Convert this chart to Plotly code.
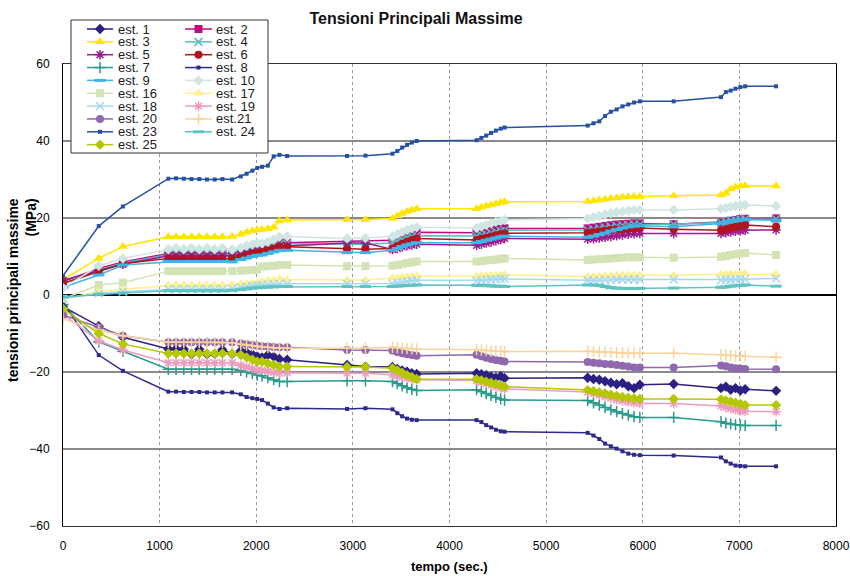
import plotly.graph_objects as go

# ---------------- data ----------------
T = [0, 370, 620,
     1090, 1170, 1250, 1330, 1410, 1490, 1570, 1650,
     1750,
     1840, 1900, 1960, 2010,
     2060, 2120, 2180, 2240,
     2320,
     2940, 3130,
     3410, 3460, 3510, 3560, 3610, 3660,
     4280, 4330, 4380, 4430, 4480, 4530, 4570,
     5430, 5490, 5550, 5610, 5670, 5730, 5790, 5850, 5910, 5970,
     6320,
     6810, 6860, 6910, 6960, 7010, 7060,
     7380]

est1 = [-3.0, -8.1, -11.0,
        -14.0, -14.0, -14.1, -15.4, -14.1, -15.4, -15.3, -14.2,
        -15.3,
        -14.5, -14.9, -15.4, -15.9,
        -16.2, -15.6, -16.0, -16.6,
        -16.8,
        -18.2, -18.6,
        -18.7, -19.2, -19.6, -19.9, -20.3, -20.5,
        -20.3, -20.6, -20.8, -21.2, -21.5, -21.1, -21.6,
        -21.5, -21.8, -22.0, -22.4, -22.8, -23.2, -22.9, -23.7, -24.2, -23.3,
        -23.1,
        -24.2, -23.8, -24.6, -24.2, -24.8, -24.5,
        -24.9]
est2 = [3.5, 6.9, 8.6,
        10.8, 10.8, 10.9, 10.8, 10.8, 10.9, 10.8, 10.8,
        10.8,
        11.2, 11.6, 11.9, 12.2,
        12.2, 12.6, 13.0, 13.5,
        13.6,
        13.9, 13.9,
        14.2, 14.7, 15.2, 15.7, 16.0, 16.3,
        16.2, 16.4, 16.6, 16.8, 17.0, 17.2, 17.3,
        17.3, 17.5, 17.7, 17.9, 18.1, 18.3, 18.4, 18.5, 18.6, 18.6,
        18.4,
        18.8, 19.0, 19.3, 19.5, 19.7, 19.8,
        19.9]
est3 = [4.0, 9.5, 12.6,
        15.1, 15.1, 15.1, 15.1, 15.1, 15.1, 15.1, 15.1,
        15.2,
        15.8, 16.3, 16.7, 16.9,
        17.0, 17.2, 17.6, 19.2,
        19.5,
        19.6, 19.6,
        19.9, 20.6, 21.2, 21.7, 22.1, 22.4,
        22.4, 22.8, 23.1, 23.4, 23.7, 24.0, 24.2,
        24.3, 24.5, 24.7, 24.9, 25.1, 25.2, 25.4, 25.5, 25.6, 25.6,
        25.8,
        26.0, 26.4, 27.5, 28.0, 28.3, 28.4,
        28.3]
est4 = [3.0, 6.5, 8.3,
        10.5, 10.5, 10.5, 10.5, 10.5, 10.5, 10.5, 10.5,
        10.5,
        10.9, 11.3, 11.7, 12.0,
        12.0, 12.4, 12.8, 13.2,
        13.3,
        13.2, 13.2,
        13.5, 14.0, 14.5, 14.9, 15.2, 15.4,
        15.3, 15.5, 15.8, 16.1, 16.4, 16.6, 16.8,
        16.9, 17.1, 17.3, 17.5, 17.7, 17.9, 18.1, 18.2, 18.3, 18.3,
        18.4,
        18.8, 19.1, 19.3, 19.5, 19.6, 19.7,
        19.7]
est5 = [3.8, 6.4, 8.0,
        10.2, 10.3, 10.2, 10.3, 10.2, 10.3, 10.2, 10.3,
        10.0,
        10.5, 10.9, 11.2, 11.5,
        11.6, 11.9, 12.3, 12.6,
        12.7,
        13.5, 13.5,
        11.8, 12.1, 12.5, 12.8, 13.0, 13.2,
        12.9, 13.2, 13.5, 13.8, 14.1, 14.4, 14.7,
        14.5, 14.6, 14.8, 15.0, 15.2, 15.4, 15.6, 15.8, 15.9, 16.0,
        16.0,
        16.0, 16.2, 16.4, 16.6, 16.7, 16.8,
        16.9]
est6 = [3.0, 6.0, 8.2,
        9.5, 9.5, 9.5, 9.5, 9.5, 9.5, 9.5, 9.5,
        9.4,
        9.9, 10.3, 10.7, 11.0,
        11.2, 11.6, 12.1, 12.6,
        12.5,
        11.9, 11.9,
        12.1, 12.7, 13.3, 13.8, 14.3, 14.7,
        14.3, 14.6, 14.9, 15.2, 15.5, 15.8, 16.0,
        16.2, 16.3, 16.5, 16.7, 16.9, 17.0, 17.1, 17.2, 17.3, 17.4,
        17.1,
        16.8, 17.1, 17.4, 17.7, 17.9, 18.2,
        17.7]
est7 = [-2.5, -12.2, -14.6,
        -19.3, -19.3, -19.3, -19.3, -19.3, -19.3, -19.3, -19.3,
        -19.3,
        -19.6, -20.0, -20.4, -20.8,
        -21.0, -21.5, -22.0, -22.5,
        -22.5,
        -22.3, -22.3,
        -22.5, -23.0, -23.6, -24.1, -24.5, -24.8,
        -24.6, -25.1, -25.6, -26.1, -26.6, -27.0, -27.3,
        -27.4, -28.0, -28.6, -29.2, -29.8, -30.3, -30.8, -31.2, -31.6, -31.8,
        -31.8,
        -32.9, -33.3, -33.5, -33.7, -33.8, -33.9,
        -33.9]
est8 = [-2.0, -15.6, -19.7,
        -25.1, -25.1, -25.2, -25.2, -25.2, -25.3, -25.3, -25.3,
        -25.3,
        -25.8, -26.5, -26.8, -27.0,
        -27.3, -28.2, -29.2, -29.6,
        -29.4,
        -29.6, -29.4,
        -29.7, -30.7, -31.5, -32.1, -32.4, -32.5,
        -32.5, -33.0, -33.8, -34.4, -35.0, -35.4, -35.5,
        -35.8, -36.5, -37.4, -38.6, -39.3, -39.9, -40.6, -41.2, -41.5, -41.6,
        -41.7,
        -42.2, -43.2, -43.8, -44.3, -44.4, -44.5,
        -44.5]
est9 = [2.0, 5.2, 7.8,
        8.7, 8.7, 8.7, 8.7, 8.7, 8.7, 8.7, 8.7,
        8.6,
        9.2, 9.6, 10.0, 10.3,
        10.4, 10.8, 11.2, 11.6,
        11.6,
        11.0, 11.0,
        11.6, 12.1, 12.6, 13.0, 13.3, 13.6,
        13.6, 13.9, 14.2, 14.5, 14.8, 15.1, 15.3,
        15.0, 15.3, 15.7, 16.1, 16.6, 17.0, 17.4, 17.7, 17.9, 18.0,
        17.7,
        18.6, 18.9, 19.1, 19.3, 19.5, 19.6,
        19.4]
est10 = [1.8, 7.6, 9.5,
         11.9, 12.2, 11.9, 12.2, 11.9, 12.2, 11.9, 12.2,
         11.8,
         12.3, 12.8, 13.2, 13.5,
         13.4, 13.8, 14.4, 15.1,
         15.2,
         14.7, 14.8,
         15.2, 15.8, 16.4, 16.9, 17.3, 17.6,
         17.4, 17.8, 18.2, 18.6, 19.0, 19.3, 19.5,
         19.9, 20.2, 20.5, 20.9, 21.2, 21.5, 21.7, 21.9, 22.1, 22.1,
         22.1,
         22.4, 22.6, 22.9, 23.1, 23.3, 23.4,
         23.1]
est16 = [-1.0, 2.6, 3.2,
         6.2, 6.2, 6.2, 6.2, 6.2, 6.2, 6.2, 6.2,
         6.2,
         6.3, 6.4, 6.5, 6.6,
         7.4, 7.5, 7.6, 7.8,
         7.8,
         7.5, 7.5,
         7.6, 7.8, 8.0, 8.3, 8.5, 8.7,
         8.7, 8.8, 9.0, 9.1, 9.2, 9.4, 9.5,
         9.1, 9.2, 9.3, 9.4, 9.5, 9.6, 9.7, 9.8, 9.8, 9.8,
         9.7,
         9.9, 10.1, 10.4, 10.6, 10.8, 10.9,
         10.4]
est17 = [-1.2, 1.0, 1.5,
         2.6, 2.6, 2.6, 2.6, 2.6, 2.6, 2.6, 2.6,
         2.7,
         2.9, 3.0, 3.1, 3.2,
         3.6, 3.8, 3.9, 4.2,
         4.0,
         3.9, 3.9,
         4.4, 4.5, 4.6, 4.7, 4.8, 5.0,
         4.9, 5.0, 5.0, 5.1, 5.1, 5.2, 5.3,
         4.8, 4.9, 4.9, 5.0, 5.0, 5.1, 5.1, 5.2, 5.2, 5.2,
         5.1,
         5.4, 5.4, 5.5, 5.5, 5.5, 5.5,
         5.4]
est18 = [-1.0, 0.4, 0.9,
         1.5, 1.5, 1.5, 1.5, 1.5, 1.5, 1.5, 1.5,
         1.6,
         2.0, 2.2, 2.4, 2.5,
         2.6, 2.7, 2.8, 2.9,
         2.9,
         2.9, 2.9,
         3.0, 3.2, 3.4, 3.5, 3.7, 3.8,
         3.7, 3.8, 3.9, 4.0, 4.1, 4.2, 4.2,
         3.8, 3.8, 3.9, 3.9, 3.9, 4.0, 4.0, 4.0, 4.0, 4.0,
         4.0,
         3.9, 4.0, 4.0, 4.1, 4.1, 4.1,
         4.3]
est19 = [-5.0, -11.9, -14.3,
         -17.6, -17.6, -17.6, -17.6, -17.6, -17.6, -17.6, -17.6,
         -17.6,
         -18.3, -18.7, -19.1, -19.5,
         -19.5, -19.8, -20.1, -20.3,
         -20.2,
         -20.3, -20.3,
         -20.7, -21.0, -21.3, -21.6, -21.8, -22.0,
         -22.2, -22.6, -23.0, -23.4, -23.8, -24.1, -24.4,
         -25.2, -25.6, -26.0, -26.4, -26.8, -27.2, -27.5, -27.8, -28.0, -28.2,
         -28.2,
         -28.8, -29.2, -29.5, -29.8, -30.0, -30.2,
         -30.3]
est20 = [-5.2, -8.4, -10.6,
         -12.3, -12.3, -12.3, -12.3, -12.3, -12.3, -12.3, -12.3,
         -12.3,
         -12.6, -12.8, -13.0, -13.2,
         -13.3, -13.4, -13.5, -13.6,
         -13.6,
         -14.3, -14.3,
         -14.4, -14.8, -15.1, -15.4, -15.6, -15.8,
         -15.5, -15.9, -16.3, -16.6, -16.9, -17.1, -17.3,
         -17.4, -17.6, -17.7, -17.9, -18.0, -18.2, -18.4, -18.6, -18.8, -18.8,
         -18.8,
         -18.3, -18.5, -18.8, -19.0, -19.1, -19.2,
         -19.3]
est21 = [-6.2, -9.1, -10.6,
         -12.3, -12.3, -12.3, -12.3, -12.3, -12.3, -12.3, -12.3,
         -12.4,
         -12.8, -13.0, -13.2, -13.4,
         -13.5, -13.6, -13.7, -13.8,
         -13.8,
         -13.8, -13.8,
         -13.6, -13.7, -13.8, -13.9, -14.0, -14.0,
         -14.2, -14.3, -14.4, -14.5, -14.6, -14.6, -14.7,
         -14.6, -14.7, -14.8, -14.8, -14.9, -15.0, -15.0, -15.1, -15.1, -15.1,
         -15.1,
         -15.5, -15.6, -15.7, -15.8, -15.8, -15.9,
         -16.2]
est23 = [5.0, 17.9, 23.0,
         30.2, 30.3, 30.2, 30.1, 30.1, 30.0, 30.0, 30.1,
         30.0,
         30.8, 31.5, 32.3, 33.0,
         33.3, 33.6, 36.0, 36.4,
         36.1,
         36.1, 36.2,
         36.7, 37.4, 38.3, 39.0, 39.6, 40.0,
         40.2, 40.8, 41.4, 42.1, 42.7, 43.2, 43.5,
         44.0, 44.6, 45.1, 46.5, 47.6, 48.2, 49.0, 49.5, 50.0, 50.3,
         50.3,
         51.4, 52.7, 53.1, 53.6, 54.0, 54.2,
         54.2]
est24 = [-0.5, 0.2, 0.5,
         1.1, 1.1, 1.1, 1.1, 1.1, 1.1, 1.1, 1.1,
         1.2,
         1.4, 1.6, 1.8, 1.9,
         2.0, 2.1, 2.1, 2.2,
         2.2,
         2.2, 2.2,
         2.2, 2.3, 2.4, 2.5, 2.5, 2.6,
         2.5, 2.5, 2.4, 2.4, 2.3, 2.3, 2.2,
         2.6, 2.6, 2.5, 2.2, 1.9, 1.8, 1.7, 1.7, 1.7, 1.7,
         1.8,
         2.0, 2.1, 2.3, 2.4, 2.5, 2.6,
         2.3]
est25 = [-3.6, -10.0, -12.7,
         -15.2, -15.2, -15.2, -15.2, -15.2, -15.2, -15.2, -15.2,
         -15.2,
         -15.6, -16.2, -16.8, -17.3,
         -17.3, -17.8, -18.2, -18.6,
         -18.6,
         -18.7, -18.7,
         -19.0, -19.6, -20.2, -20.8, -21.3, -21.8,
         -21.9, -22.2, -22.5, -22.8, -23.1, -23.5, -23.8,
         -24.7, -25.0, -25.3, -25.6, -25.9, -26.2, -26.5, -26.7, -26.9, -27.0,
         -27.0,
         -27.1, -27.4, -27.7, -28.0, -28.3, -28.6,
         -28.6]

names = ["est. 1", "est. 2", "est. 3", "est. 4", "est. 5", "est. 6", "est. 7",
         "est. 8", "est. 9", "est. 10", "est. 16", "est. 17", "est. 18",
         "est. 19", "est. 20", "est.21", "est. 23", "est. 24", "est. 25"]
values = [est1, est2, est3, est4, est5, est6, est7, est8, est9, est10,
          est16, est17, est18, est19, est20, est21, est23, est24, est25]

x_ticks = [0, 1000, 2000, 3000, 4000, 5000, 6000, 7000, 8000]
y_ticks = [-60, -40, -20, 0, 20, 40, 60]

# ---------------- styles ----------------
colors = ["#2B2183", "#C0087F", "#FFE600", "#4EC3C0", "#9B1B8E", "#B0141E",
          "#2A9A8C", "#2E2A8C", "#3DB5E6", "#CFE6E3", "#D4E3B5", "#FFF08C",
          "#A6D8F2", "#EE9BC0", "#9068AD", "#FAD49C", "#2650A2", "#5EC3C3",
          "#B5C700"]
symbols = ["diamond", "square", "triangle-up", "x-thin-open", "asterisk-open",
           "circle", "cross-thin-open", "square", "line-ew-open", "diamond",
           "square", "triangle-up", "x-thin-open", "asterisk-open", "circle",
           "cross-thin-open", "square", "line-ew-open", "diamond"]
sizes = [8, 8, 9, 8, 8, 8, 8, 4, 8, 8, 8, 9, 8, 8, 8, 8, 4, 8, 8]
mlw = [0, 0, 0, 1.5, 1.5, 0, 1.5, 0, 3, 0, 0, 0, 1.5, 1.5, 0, 1.5, 0, 3, 0]

W, H = 850, 576
PX0, PX1, PY0, PY1 = 63, 836, 64, 526

fig = go.Figure()
for n, v, c, s, sz, lw in zip(names, values, colors, symbols, sizes, mlw):
    fig.add_trace(go.Scatter(
        x=T, y=v, name=n, mode="lines+markers",
        line=dict(color=c, width=1.5),
        marker=dict(symbol=s, size=sz, color=c, line=dict(color=c, width=lw)),
        showlegend=False, xaxis="x", yaxis="y"))

# ---------------- manual legend (pixel overlay axes) ----------------
LX0, LX1, LY0, LY1 = 71, 268, 20, 153
row0, rowh = 29, 12.85
col_line = [(87, 113), (185, 212)]
col_text = [116, 214]
annotations = []
shapes = [dict(type="rect", xref="x2", yref="y2", x0=LX0, x1=LX1, y0=LY0, y1=LY1,
               fillcolor="white", line=dict(color="#333333", width=1), layer="below")]
for i, (n, c, s, sz, lw) in enumerate(zip(names, colors, symbols, sizes, mlw)):
    r, col = divmod(i, 2)
    yy = row0 + rowh * r
    a, b = col_line[col]
    shapes.append(dict(type="line", xref="x2", yref="y2", x0=a, x1=b, y0=yy, y1=yy,
                       line=dict(color=c, width=1.5), layer="below"))
    fig.add_trace(go.Scatter(
        x=[(a + b) / 2], y=[yy], mode="markers", showlegend=False, hoverinfo="skip",
        marker=dict(symbol=s, size=sz, color=c, line=dict(color=c, width=lw)),
        xaxis="x2", yaxis="y2"))
    annotations.append(dict(xref="x2", yref="y2", x=col_text[col], y=yy, text=n,
                            showarrow=False, xanchor="left", yanchor="middle",
                            font=dict(family="Liberation Sans, Arial", size=13, color="#222")))

annotations.append(dict(xref="x2", yref="y2", x=22, y=290,
                        text="<b>tensioni principali massime</b><br><b>(MPa)</b>",
                        textangle=-90, align="right", showarrow=False,
                        font=dict(family="Liberation Sans, Arial", size=14, color="black")))
annotations.append(dict(xref="x2", yref="y2", x=449, y=566, text="<b>tempo (sec.)</b>",
                        showarrow=False, xanchor="center", yanchor="middle",
                        font=dict(family="Liberation Sans, Arial", size=13, color="black")))

fig.update_layout(
    width=W, height=H,
    margin=dict(l=0, r=0, t=0, b=0, autoexpand=False),
    paper_bgcolor="white", plot_bgcolor="rgba(0,0,0,0)",
    hovermode=False,
    font=dict(family="Liberation Sans, Arial", size=12, color="black"),
    title=dict(text="<b>Tensioni Principali Massime</b>", x=416 / W, y=1 - 18 / H,
               xanchor="center", yanchor="middle", automargin=False,
               font=dict(family="Liberation Sans, Arial", size=16, color="#111")),
    xaxis=dict(domain=[PX0 / W, PX1 / W], range=[0, 8000], tickvals=x_ticks,
               showgrid=True, gridcolor="#999999", griddash="dot", gridwidth=1,
               zeroline=False, showline=True, linecolor="#333333", linewidth=1,
               mirror=True, ticks="", ticklabelstandoff=9, automargin=False,
               tickfont=dict(size=12), anchor="y"),
    yaxis=dict(domain=[1 - PY1 / H, 1 - PY0 / H], range=[-60, 60], tickvals=y_ticks,
               showgrid=True, gridcolor="#8a8a8a", gridwidth=2,
               zeroline=True, zerolinecolor="black", zerolinewidth=1.5,
               showline=True, linecolor="black", linewidth=1, mirror=True,
               ticks="", ticklabelstandoff=10, automargin=False,
               tickfont=dict(size=12), anchor="x"),
    xaxis2=dict(domain=[0, 1], range=[0, W], visible=False, anchor="y2",
                fixedrange=True, automargin=False),
    yaxis2=dict(domain=[0, 1], range=[H, 0], visible=False, anchor="x2",
                fixedrange=True, automargin=False),
    shapes=shapes,
    annotations=annotations,
)

fig.write_html("out.html")
